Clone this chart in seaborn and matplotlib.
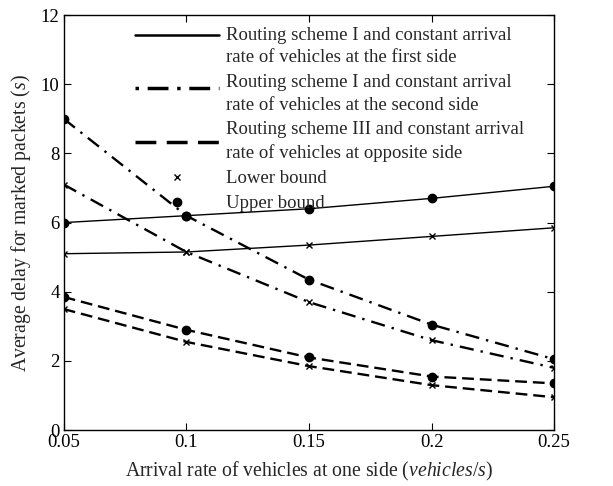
import matplotlib
matplotlib.use("Agg")
import matplotlib.pyplot as plt
from matplotlib.lines import Line2D
from matplotlib.legend_handler import HandlerLine2D
import seaborn as sns
import pandas as pd

rates = [0.05, 0.10, 0.15, 0.20, 0.25]
first_upper = [6.0, 6.2, 6.4, 6.7, 7.05]
first_lower = [5.1, 5.15, 5.35, 5.6, 5.85]
second_upper = [9.0, 6.2, 4.35, 3.05, 2.05]
second_lower = [7.1, 5.15, 3.7, 2.6, 1.8]
opp_upper = [3.85, 2.9, 2.1, 1.55, 1.35]
opp_lower = [3.5, 2.55, 1.85, 1.3, 0.95]

legend_labels = [
    "Routing scheme I and constant arrival\nrate of vehicles at the first side",
    "Routing scheme I and constant arrival\nrate of vehicles at the second side",
    "Routing scheme III and constant arrival\nrate of vehicles at opposite side",
    "Lower bound",
    "Upper bound",
]

sns.set_theme(style="ticks")
plt.rcParams["font.family"] = ["Liberation Serif", "DejaVu Serif"]
plt.rcParams["mathtext.fontset"] = "custom"
plt.rcParams["mathtext.it"] = "Liberation Serif:italic"
plt.rcParams["mathtext.rm"] = "Liberation Serif"

fig = plt.figure(figsize=(6.13, 4.86), dpi=100)
ax = fig.add_axes([0.104, 0.115, 0.800, 0.854])

dashdot = (0, (6, 3, 1, 3))
dashed = (0, (5, 2.5))
series = [
    (first_upper, "-", "o"), (first_lower, "-", "x"),
    (second_upper, dashdot, "o"), (second_lower, dashdot, "x"),
    (opp_upper, dashed, "o"), (opp_lower, dashed, "x"),
]
for vals, ls, mk in series:
    df = pd.DataFrame({"rate": rates, "delay": vals})
    sns.lineplot(data=df, x="rate", y="delay", ax=ax, color="black",
                 linestyle=ls, linewidth=1.7 if ls != "-" else 1.0,
                 marker=mk, markersize=6 if mk == "o" else 5,
                 markeredgewidth=1.0, markeredgecolor="black",
                 markerfacecolor="black")

ax.set_xlim(0.05, 0.25)
ax.set_ylim(0, 12)
ax.set_xticks(rates)
ax.set_xticklabels(["0.05", "0.1", "0.15", "0.2", "0.25"])
ax.set_yticks([0, 2, 4, 6, 8, 10, 12])
ax.tick_params(direction="in", top=True, right=True, labelsize=13.5,
               length=5, width=0.8, colors="black", pad=3)
for s in ax.spines.values():
    s.set_linewidth(1.0)
    s.set_color("black")
ax.set_xlabel(r"Arrival rate of vehicles at one side ($\it{vehicles/s}$)", fontsize=14.2, labelpad=6)
ax.set_ylabel(r"Average delay for marked packets ($\it{s}$)", fontsize=14.2, labelpad=6)


class RaisedLineHandler(HandlerLine2D):
    def __init__(self, shift, **kw):
        super().__init__(**kw)
        self.shift = shift

    def create_artists(self, legend, orig_handle, xdescent, ydescent,
                       width, height, fontsize, trans):
        arts = super().create_artists(legend, orig_handle, xdescent, ydescent,
                                      width, height, fontsize, trans)
        for a in arts:
            a.set_ydata([y + self.shift for y in a.get_ydata()])
        return arts


handles = [
    Line2D([], [], color="black", linestyle="-", linewidth=1.8),
    Line2D([], [], color="black", linestyle=(0, (1, 2.5, 6, 2.5)), linewidth=2.5),
    Line2D([], [], color="black", linestyle=(0, (6, 3)), linewidth=2.5),
    Line2D([], [], color="black", linestyle="none", marker="x", markersize=4),
    Line2D([], [], color="black", linestyle="none", marker="o", markersize=6),
]
leg = ax.legend(handles, legend_labels, loc="upper right", frameon=False,
                fontsize=13.5, handlelength=4.5, handletextpad=0.4,
                labelspacing=0.42, borderaxespad=0.0,
                bbox_to_anchor=(0.955, 0.99),
                handler_map={handles[0]: RaisedLineHandler(8),
                             handles[1]: RaisedLineHandler(4),
                             handles[2]: RaisedLineHandler(0)})
for t in leg.get_texts():
    t.set_linespacing(1.42)

fig.savefig("out.png", dpi=100)
